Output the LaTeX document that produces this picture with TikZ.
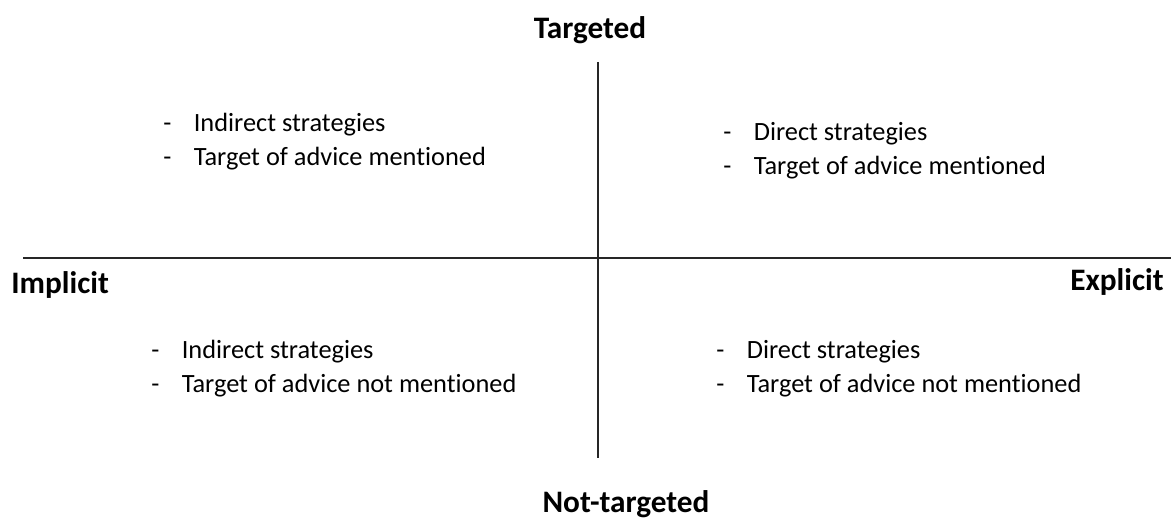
\documentclass[tikz,border=0pt]{standalone}
\usepackage{fontspec}
\setmainfont{Carlito}[Ligatures=NoCommon]
\usetikzlibrary{positioning}

% two dashed-list entries in one quadrant
\newcommand{\twopoints}[2]{\begin{tabular}{@{}l@{\hspace{0.85em}}l@{}}-&#1\\-&#2\end{tabular}}

\begin{document}
\begin{tikzpicture}[x=0.02cm, y=-0.02cm,
                    axis label/.style={font=\fontsize{17.8}{21}\selectfont\bfseries, inner sep=0pt},
                    quad text/.style={font=\fontsize{15}{19.2}\selectfont, anchor=west, inner sep=0pt}]

  \useasboundingbox (0,0) rectangle (1171,520);

  % the two axes
  \coordinate (left)   at (23,258);
  \coordinate (right)  at (1171,258);
  \coordinate (top)    at (598,62);
  \coordinate (bottom) at (598,458);
  \draw[line width=0.6pt, black!85] (left) -- (right);
  \draw[line width=0.6pt, black!85] (top) -- (bottom);

  % axis names
  \node[axis label] (targ)    at (590,30)  {Targeted};
  \node[axis label] (nottarg) at (626,504) {Not-targeted};
  \node[axis label, anchor=west] (impl) at (11,285)  {Implicit};
  \node[axis label, anchor=east] (expl) at (1164,282) {Explicit};

  % quadrants
  \node[quad text] (tl) at (163,142) {\twopoints{Indirect strategies}{Target of advice mentioned}};
  \node[quad text] (tr) at (723,151) {\twopoints{Direct strategies}{Target of advice mentioned}};
  \node[quad text] (bl) at (151,369) {\twopoints{Indirect strategies}{Target of advice not mentioned}};
  \node[quad text] (br) at (716,369) {\twopoints{Direct strategies}{Target of advice not mentioned}};

\end{tikzpicture}
\end{document}
